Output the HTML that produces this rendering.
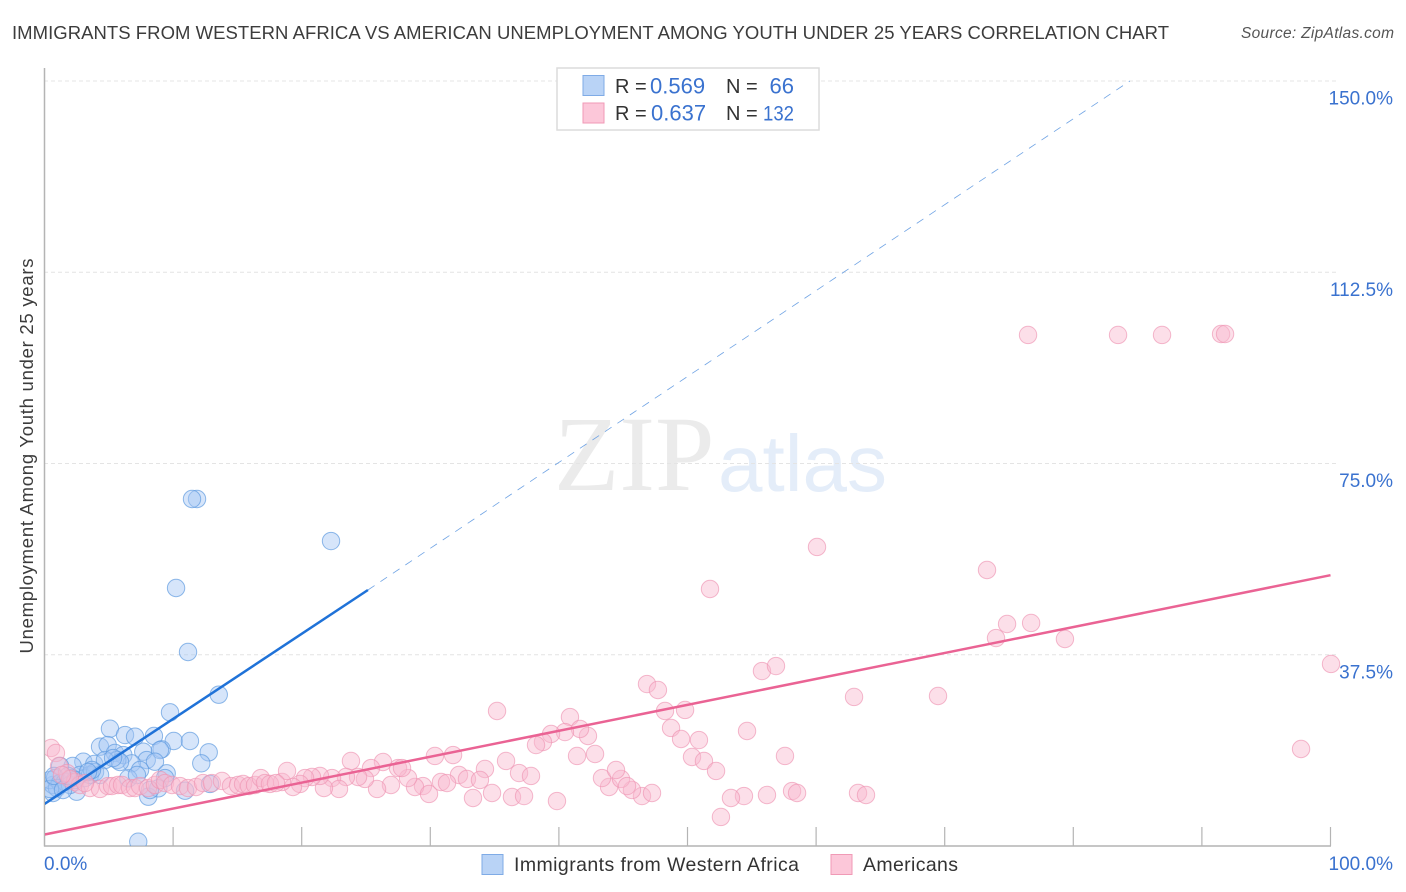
<!DOCTYPE html>
<html>
<head>
<meta charset="utf-8">
<title>Correlation chart</title>
<style>
html,body{margin:0;padding:0;background:#fff;width:1406px;height:892px;overflow:hidden}
svg{display:block}
text{font-family:"Liberation Sans",sans-serif}
</style>
</head>
<body>
<svg id="chart" width="1406" height="892" viewBox="0 0 1406 892" xmlns="http://www.w3.org/2000/svg">
<defs><clipPath id="plot-clip"><rect x="45" y="68" width="1340" height="778"/></clipPath></defs>
<text x="12" y="39" font-size="18.5" fill="#3c3c3c" textLength="1157" lengthAdjust="spacing">IMMIGRANTS FROM WESTERN AFRICA VS AMERICAN UNEMPLOYMENT AMONG YOUTH UNDER 25 YEARS CORRELATION CHART</text>
<text x="1394" y="38" font-size="15.500" font-style="italic" fill="#555" text-anchor="end" textLength="153" lengthAdjust="spacing">Source: ZipAtlas.com</text>
<g>
<text x="554" y="490" style="font-family:'Liberation Serif',serif" font-size="107" fill="#ebebeb">ZIP</text>
<text x="718" y="491" font-size="80" fill="#e4edf9">atlas</text>
</g>
<g id="grid"></g>
<g id="axes"></g>
<g id="marks" clip-path="url(#plot-clip)"></g>
<g id="trends" clip-path="url(#plot-clip)"></g>
<text transform="translate(33,456) rotate(-90)" font-size="18.5" fill="#3c3c3c" text-anchor="middle" textLength="395" lengthAdjust="spacing">Unemployment Among Youth under 25 years</text>
<g>
<rect x="557" y="68" width="262" height="62" fill="#fff" stroke="#dcdcdc" stroke-width="1.5"/>
<rect x="583" y="75.500" width="21" height="20" fill="#b9d3f6" stroke="#7fabe6" stroke-width="1"/>
<rect x="583" y="103" width="21" height="20" fill="#fcc7d9" stroke="#f09ab6" stroke-width="1"/>
<g font-size="20">
<text x="615" y="93" fill="#333">R =</text>
<text x="650" y="93.500" fill="#3a72cf" font-size="22">0.569</text>
<text x="726" y="93" fill="#333">N =</text>
<text x="794" y="93.500" fill="#3a72cf" font-size="22" text-anchor="end">66</text>
<text x="615" y="120" fill="#333">R =</text>
<text x="651" y="120.500" fill="#3a72cf" font-size="22">0.637</text>
<text x="726" y="120" fill="#333">N =</text>
<text x="763" y="120.500" fill="#3a72cf" font-size="21" textLength="31" lengthAdjust="spacingAndGlyphs">132</text>
</g>
</g>
<g>
<rect x="482" y="854.500" width="21" height="20" fill="#b9d3f6" stroke="#7fabe6" stroke-width="1"/>
<text x="514" y="871" font-size="19.500" fill="#333" textLength="285" lengthAdjust="spacing">Immigrants from Western Africa</text>
<rect x="831" y="854.500" width="21" height="20" fill="#fcc7d9" stroke="#f09ab6" stroke-width="1"/>
<text x="863" y="871" font-size="19.500" fill="#333" textLength="95" lengthAdjust="spacing">Americans</text>
</g>
<script>
var xTickValues = [10,20,30,40,50,60,70,80,90,100];
var yGridValues = [37.5,75,112.5,150];
var yTickLabels = ["37.5%","75.0%","112.5%","150.0%"];
var xEndLabels = ["0.0%","100.0%"];
var blueX = [13.55,9.76,5.09,6.26,7.04,8.51,10.05,11.31,12.77,12.19,4.32,4.91,3.02,2.19,1.21,3.87,5.48,6.13,7.68,9.11,8.98,7.95,8.59,6.78,7.43,5.66,4.70,9.5,9.37,6.52,8.07,8.85,8.2,10.93,12.87,2.5,0.66,7.29,11.86,11.47,22.28,10.23,11.16,0.66,0.43,0.82,1.21,1.59,2.14,2.76,3.15,3.54,3.93,4.32,1.98,2.37,0.97,0.43,0.74,1.44,1.83,3.69,5.87,5.33,7.19,3.38];
var blueY = [29.67,26.2,23.0,21.76,21.43,21.57,20.59,20.59,18.37,16.22,19.47,19.8,16.53,15.69,15.69,16.08,18.24,17.84,18.49,18.96,18.82,16.86,16.53,16.22,14.9,16.86,16.86,14.25,13.33,13.27,9.67,11.31,10.98,10.84,12.16,10.65,10.39,0.84,68.04,68.04,59.8,50.59,38.04,11.96,12.94,13.33,12.35,12.55,13.33,13.92,13.33,13.92,14.51,13.92,11.96,12.94,11.37,11.18,13.73,10.98,13.73,14.9,16.47,17.25,13.92,14.51];
var pinkX = [76.48,83.48,86.9,91.49,91.8,60.07,73.29,51.75,74.85,76.72,73.99,79.35,100.04,46.85,47.7,55.79,56.88,62.95,69.48,35.19,48.25,49.81,40.86,48.72,49.5,50.89,54.63,97.71,50.35,51.28,52.22,57.58,58.13,58.52,63.26,63.88,56.18,54.39,53.38,52.6,39.85,46.46,47.24,45.68,43.9,43.35,44.83,44.44,45.3,42.81,41.41,42.26,41.64,40.47,39.39,38.76,38.22,35.89,36.9,37.83,34.25,32.23,32.85,33.86,33.32,34.8,36.35,37.29,30.36,31.77,29.43,28.81,29.9,30.83,31.3,28.27,26.32,25.39,27.49,27.8,23.83,26.94,25.86,24.92,24.38,23.44,22.36,22.9,21.73,21.42,20.8,20.26,19.87,19.32,18.47,18.86,0.51,0.89,1.13,1.75,2.37,2.76,3.54,4.32,4.94,5.25,5.72,6.03,6.65,7.04,7.43,8.05,8.59,8.98,9.37,9.91,10.54,11.16,11.78,12.33,13.02,13.8,14.5,15.05,15.44,15.9,16.37,16.82,17.14,17.53,18,3.15,1.98,1.36];
var pinkY = [100.2,100.2,100.2,100.39,100.39,58.63,54.12,50.39,43.53,43.73,40.78,40.59,35.69,31.76,30.59,34.31,35.29,29.22,29.41,26.47,26.47,26.67,25.29,23.14,20.98,20.78,22.55,19.02,17.45,16.67,14.71,17.65,10.78,10.39,10.39,10,10,9.8,9.41,5.69,8.82,9.8,10.39,10.98,11.57,13.33,13.14,14.9,11.76,18.04,17.65,21.57,22.94,22.35,21.96,20.39,19.8,16.67,14.31,13.73,15.1,13.92,13.14,12.94,9.41,10.39,9.61,9.8,17.65,17.84,11.76,11.57,10.2,12.55,12.35,13.33,16.47,15.29,15.29,15.29,16.67,11.96,11.18,13.14,13.53,13.53,13.33,11.18,11.37,13.73,13.53,13.33,12.16,11.57,12.55,14.71,19.22,18.24,15.69,14.31,12.55,11.96,11.37,11.18,11.76,11.76,11.96,11.96,11.37,11.37,11.76,11.37,11.96,12.94,12.35,11.96,11.76,11.37,11.57,12.35,12.35,12.75,11.76,11.96,12.16,11.76,11.96,13.33,12.35,12.16,12.35,12.35,13.14,13.92];
var blueTrendX = [0,25.15,84.4];
var blueTrendY = [8.24,50.2,150];
var pinkTrendX = [0,100];
var pinkTrendY = [2.25,53.1];

var NS = "http://www.w3.org/2000/svg";
function xScale(v){ return 44.5 + v * 12.86; }
function yScale(v){ return 846 - v * 5.1; }
function make(parent, tag, attrs){
  var el = document.createElementNS(NS, tag);
  for (var k in attrs) el.setAttribute(k, attrs[k]);
  parent.appendChild(el);
  return el;
}
var grid = document.getElementById("grid");
var axes = document.getElementById("axes");
var marks = document.getElementById("marks");
var trends = document.getElementById("trends");

yGridValues.forEach(function(v, i){
  var line = make(grid, "line", {x1:44, x2:1338, y1:yScale(v), y2:yScale(v), stroke:"#e4e4e4", "stroke-width":1, "stroke-dasharray":"4 3"});
  
  
  var label = make(axes, "text", {x:1393, y:yScale(v)+23.5, "font-size":19, fill:"#3a72cf", "text-anchor":"end"});
  label.textContent = yTickLabels[i];
  
  
});

var yAxis = make(axes, "line", {x1:44.5, x2:44.5, y1:68, y2:846.500, stroke:"#b4b4b4", "stroke-width":1.5});


var xAxis = make(axes, "line", {x1:44, x2:xScale(100)+0.5, y1:846, y2:846, stroke:"#b4b4b4", "stroke-width":1.5});



xTickValues.forEach(function(v){
  var tick = make(axes, "line", {x1:xScale(v), x2:xScale(v), y1:827, y2:846, stroke:"#b4b4b4", "stroke-width":1.2});
  
  
});

var xLabelStart = make(axes, "text", {x:44, y:870, "font-size":19, fill:"#3a72cf"});
xLabelStart.textContent = xEndLabels[0];


var xLabelEnd = make(axes, "text", {x:1393, y:870, "font-size":19, fill:"#3a72cf", "text-anchor":"end"});
xLabelEnd.textContent = xEndLabels[1];



blueX.forEach(function(v, i){
  var c = make(marks, "circle", {cx:xScale(v), cy:yScale(blueY[i]), r:8.7, fill:"#a3c6f3", "fill-opacity":0.45, stroke:"#5f9be0", "stroke-opacity":0.7, "stroke-width":1});
  
  
});
pinkX.forEach(function(v, i){
  var c = make(marks, "circle", {cx:xScale(v), cy:yScale(pinkY[i]), r:8.7, fill:"#f9b9ce", "fill-opacity":0.45, stroke:"#ee94b2", "stroke-opacity":0.65, "stroke-width":1});
  
  
});

var blueSolid = make(trends, "line", {x1:xScale(blueTrendX[0]), y1:yScale(blueTrendY[0]), x2:xScale(blueTrendX[1]), y2:yScale(blueTrendY[1]), stroke:"#1f72d8", "stroke-width":2.5});


var blueDash = make(trends, "line", {x1:xScale(blueTrendX[1]), y1:yScale(blueTrendY[1]), x2:xScale(blueTrendX[2]), y2:yScale(blueTrendY[2]), stroke:"#6fa3e4", "stroke-width":0.8, "stroke-dasharray":"8 7"});


var pinkLine = make(trends, "line", {x1:xScale(pinkTrendX[0]), y1:yScale(pinkTrendY[0]), x2:xScale(pinkTrendX[1]), y2:yScale(pinkTrendY[1]), stroke:"#ea6394", "stroke-width":2.5});


</script>
</svg>
</body>
</html>
